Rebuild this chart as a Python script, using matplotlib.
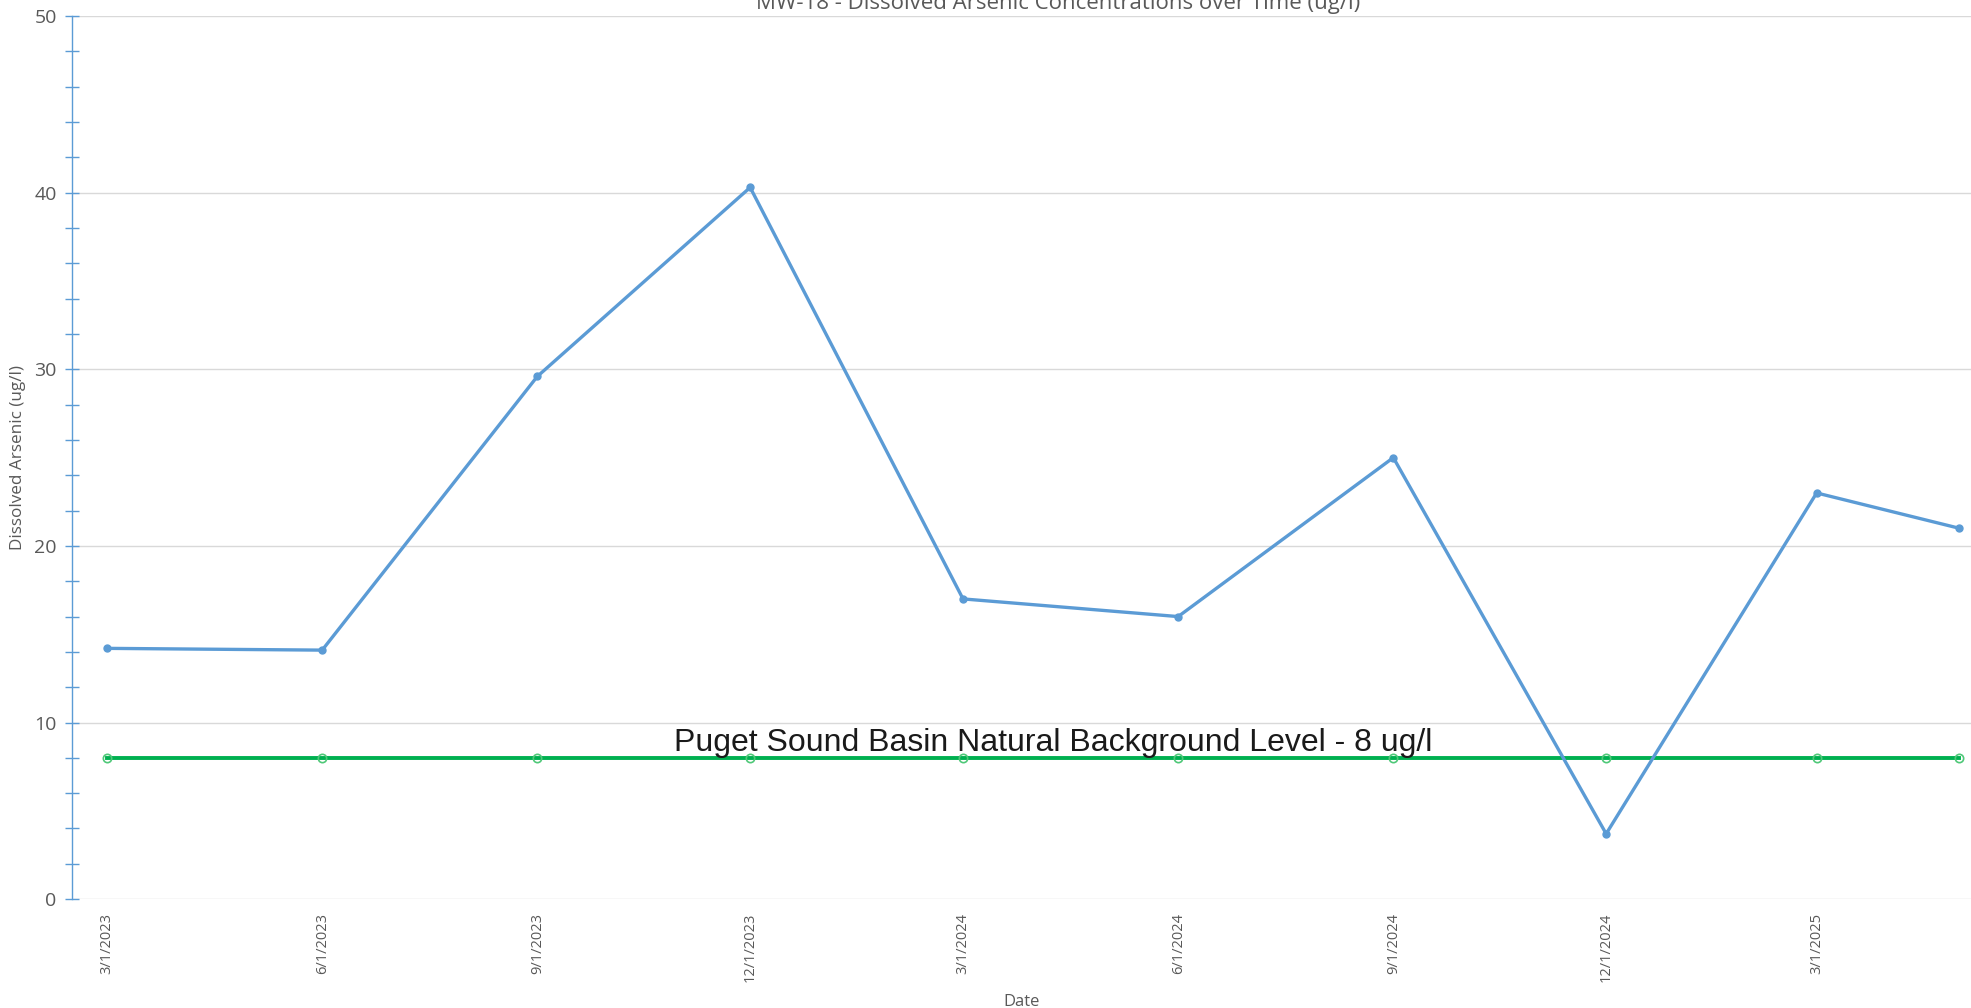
import matplotlib
matplotlib.use("Agg")
import matplotlib.pyplot as plt
from matplotlib.ticker import MultipleLocator
import datetime as dt

# sample dates and results (ug/l)
sample_dates = ["2023-03-01", "2023-06-01", "2023-09-01", "2023-12-01", "2024-03-01",
                "2024-06-01", "2024-09-01", "2024-12-01", "2025-03-01", "2025-05-01"]
arsenic = [14.2, 14.1, 29.6, 40.3, 17.0, 16.0, 25.0, 3.7, 23.0, 21.0]
background = [8, 8, 8, 8, 8, 8, 8, 8, 8, 8]
tick_dates = ["2023-03-01", "2023-06-01", "2023-09-01", "2023-12-01", "2024-03-01",
              "2024-06-01", "2024-09-01", "2024-12-01", "2025-03-01"]

dates = [dt.datetime.strptime(d, "%Y-%m-%d") for d in sample_dates]
ticks = [dt.datetime.strptime(d, "%Y-%m-%d") for d in tick_dates]
tick_labels = [f"{d.month}/{d.day}/{d.year}" for d in ticks]

plt.rcParams['font.family'] = ['Open Sans', 'DejaVu Sans']

blue = "#5b9bd5"
green = "#00b050"
grey = "#595959"

fig = plt.figure(figsize=(19.71, 10.08), dpi=100)
ax = fig.add_axes([0.0365, 0.108, 0.9635, 0.876])

ax.plot(dates, background, color=green, lw=2.8, marker="o", ms=6,
        mfc="none", mec="#4fc878", mew=1.2, zorder=3)
ax.plot(dates, arsenic, color=blue, lw=2.4, marker="o", ms=5,
        mfc=blue, mec=blue, zorder=4)

ax.set_ylim(0, 50)
ax.set_xlim(dt.datetime(2023, 2, 14), dt.datetime(2025, 5, 6))
ax.yaxis.set_major_locator(MultipleLocator(10))
ax.yaxis.set_minor_locator(MultipleLocator(2))
ax.set_xticks(ticks)
ax.set_xticklabels(tick_labels, rotation=90, fontsize=10.5, color=grey)
ax.tick_params(axis="x", length=0, pad=10)
ax.tick_params(axis="y", which="both", direction="inout", color=blue, width=1.0,
               labelsize=14, labelcolor=grey, pad=6)
ax.tick_params(axis="y", which="major", length=10)
ax.tick_params(axis="y", which="minor", length=10)

ax.grid(axis="y", which="major", color="#d9d9d9", lw=1.0)
ax.set_axisbelow(True)
for s in ["top", "right", "bottom"]:
    ax.spines[s].set_visible(False)
ax.spines["left"].set_color(blue)
ax.spines["left"].set_linewidth(1.0)

ax.set_ylabel("Dissolved Arsenic (ug/l)", fontsize=12.3, color=grey, labelpad=6)
ax.set_xlabel("Date", fontsize=12, color=grey, labelpad=8)

ax.text(0.5166, 8.83, "Puget Sound Basin Natural Background Level - 8 ug/l",
        transform=ax.get_yaxis_transform(), ha="center", va="center",
        fontsize=23, family=["Liberation Sans", "DejaVu Sans"], color="#1a1a1a", zorder=5)

fig.text(0.537, 0.997, "MW-18 - Dissolved Arsenic Concentrations over Time (ug/l)",
         ha="center", va="center", fontsize=16, color=grey)

fig.savefig("out.png", dpi=100)
